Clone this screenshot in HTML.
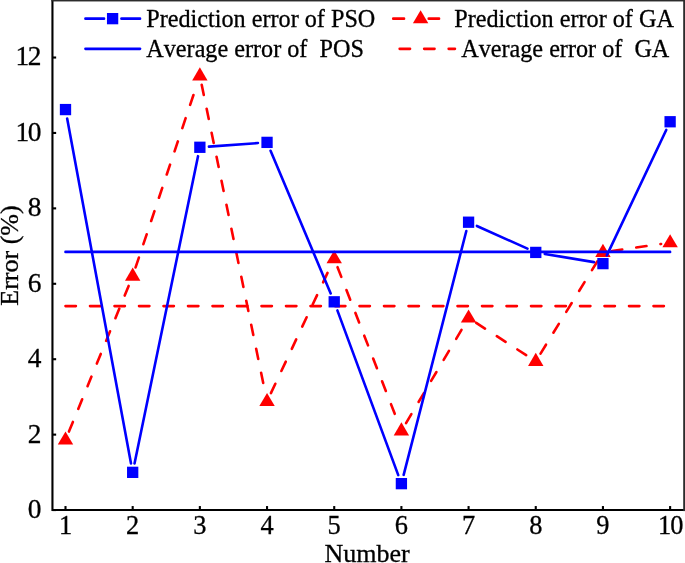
<!DOCTYPE html>
<html><head><meta charset="utf-8"><title>Error chart</title>
<style>
html,body{margin:0;padding:0;background:#fff;}
body{width:685px;height:563px;overflow:hidden;}
svg{display:block;}
text{font-kerning:none;stroke:#000;stroke-width:0.3px;font-family:"Liberation Serif","Times New Roman",serif;fill:#000;}
.tick{font-size:27.4px;}
.leg{font-size:24px;}
.title{font-size:26px;}
</style></head><body>
<svg width="685" height="563" viewBox="0 0 685 563">
<rect x="0" y="0" width="685" height="563" fill="#fff"/>
<line x1="65.50" y1="306.08" x2="670.12" y2="306.08" stroke="#ff0000" stroke-width="2.6" stroke-linecap="round" stroke-dasharray="10.4 14.1"/>
<line x1="68.95" y1="431.56" x2="129.23" y2="284.48" stroke="#ff0000" stroke-width="2.6" stroke-linecap="round" stroke-dasharray="10.4 14.1"/>
<line x1="135.57" y1="267.43" x2="196.97" y2="84.48" stroke="#ff0000" stroke-width="2.6" stroke-linecap="round" stroke-dasharray="10.4 14.1"/>
<line x1="201.70" y1="84.77" x2="265.20" y2="392.50" stroke="#ff0000" stroke-width="2.6" stroke-linecap="round" stroke-dasharray="10.4 14.1"/>
<line x1="270.92" y1="393.17" x2="330.34" y2="266.95" stroke="#ff0000" stroke-width="2.6" stroke-linecap="round" stroke-dasharray="10.4 14.1"/>
<line x1="337.53" y1="267.19" x2="398.09" y2="422.38" stroke="#ff0000" stroke-width="2.6" stroke-linecap="round" stroke-dasharray="10.4 14.1"/>
<line x1="406.05" y1="423.04" x2="463.93" y2="325.81" stroke="#ff0000" stroke-width="2.6" stroke-linecap="round" stroke-dasharray="10.4 14.1"/>
<line x1="476.23" y1="322.93" x2="528.11" y2="356.39" stroke="#ff0000" stroke-width="2.6" stroke-linecap="round" stroke-dasharray="10.4 14.1"/>
<line x1="540.53" y1="353.57" x2="598.17" y2="260.05" stroke="#ff0000" stroke-width="2.6" stroke-linecap="round" stroke-dasharray="10.4 14.1"/>
<line x1="611.95" y1="251.01" x2="661.11" y2="243.98" stroke="#ff0000" stroke-width="2.6" stroke-linecap="round" stroke-dasharray="10.4 14.1"/>
<polygon points="65.50,431.48 57.80,444.58 73.20,444.58" fill="#ff0000"/>
<polygon points="132.68,267.56 124.98,280.66 140.38,280.66" fill="#ff0000"/>
<polygon points="199.86,67.36 192.16,80.46 207.56,80.46" fill="#ff0000"/>
<polygon points="267.04,392.91 259.34,406.01 274.74,406.01" fill="#ff0000"/>
<polygon points="334.22,250.21 326.52,263.31 341.92,263.31" fill="#ff0000"/>
<polygon points="401.40,422.36 393.70,435.46 409.10,435.46" fill="#ff0000"/>
<polygon points="468.58,309.49 460.88,322.59 476.28,322.59" fill="#ff0000"/>
<polygon points="535.76,352.82 528.06,365.92 543.46,365.92" fill="#ff0000"/>
<polygon points="602.94,243.80 595.24,256.90 610.64,256.90" fill="#ff0000"/>
<polygon points="670.12,234.19 662.42,247.29 677.82,247.29" fill="#ff0000"/>
<line x1="65.50" y1="251.89" x2="670.12" y2="251.89" stroke="#0000ff" stroke-width="2.6" stroke-linecap="round"/>
<line x1="67.16" y1="118.52" x2="131.02" y2="463.39" stroke="#0000ff" stroke-width="2.6" stroke-linecap="round"/>
<line x1="134.52" y1="463.43" x2="198.02" y2="156.19" stroke="#0000ff" stroke-width="2.6" stroke-linecap="round"/>
<line x1="208.94" y1="146.62" x2="257.96" y2="143.04" stroke="#0000ff" stroke-width="2.6" stroke-linecap="round"/>
<line x1="270.57" y1="150.76" x2="330.69" y2="293.43" stroke="#0000ff" stroke-width="2.6" stroke-linecap="round"/>
<line x1="337.37" y1="310.35" x2="398.25" y2="475.12" stroke="#0000ff" stroke-width="2.6" stroke-linecap="round"/>
<line x1="403.66" y1="474.84" x2="466.32" y2="231.02" stroke="#0000ff" stroke-width="2.6" stroke-linecap="round"/>
<line x1="476.88" y1="225.94" x2="527.46" y2="248.68" stroke="#0000ff" stroke-width="2.6" stroke-linecap="round"/>
<line x1="544.74" y1="253.91" x2="593.96" y2="262.12" stroke="#0000ff" stroke-width="2.6" stroke-linecap="round"/>
<line x1="606.83" y1="255.39" x2="666.23" y2="129.97" stroke="#0000ff" stroke-width="2.6" stroke-linecap="round"/>
<rect x="59.85" y="103.92" width="11.3" height="11.3" fill="#0000ff"/>
<rect x="127.03" y="466.69" width="11.3" height="11.3" fill="#0000ff"/>
<rect x="194.21" y="141.63" width="11.3" height="11.3" fill="#0000ff"/>
<rect x="261.39" y="136.73" width="11.3" height="11.3" fill="#0000ff"/>
<rect x="328.57" y="296.17" width="11.3" height="11.3" fill="#0000ff"/>
<rect x="395.75" y="478.00" width="11.3" height="11.3" fill="#0000ff"/>
<rect x="462.93" y="216.56" width="11.3" height="11.3" fill="#0000ff"/>
<rect x="530.11" y="246.77" width="11.3" height="11.3" fill="#0000ff"/>
<rect x="597.29" y="257.97" width="11.3" height="11.3" fill="#0000ff"/>
<rect x="664.47" y="116.10" width="11.3" height="11.3" fill="#0000ff"/>
<g stroke="#000" stroke-width="2.1" fill="none" stroke-linecap="butt">
<path d="M52.45,0 L52.45,510.05 L685,510.05" stroke-linejoin="miter"/>
<rect x="51.400000000000006" y="-1" width="700" height="2.45" fill="#2c2c2c" stroke="none"/>
<rect x="683.2" y="-1" width="3" height="512.1" fill="#2c2c2c" stroke="none"/>
<line x1="65.50" y1="510.05" x2="65.50" y2="506.05"/>
<line x1="132.68" y1="510.05" x2="132.68" y2="506.05"/>
<line x1="199.86" y1="510.05" x2="199.86" y2="506.05"/>
<line x1="267.04" y1="510.05" x2="267.04" y2="506.05"/>
<line x1="334.22" y1="510.05" x2="334.22" y2="506.05"/>
<line x1="401.40" y1="510.05" x2="401.40" y2="506.05"/>
<line x1="468.58" y1="510.05" x2="468.58" y2="506.05"/>
<line x1="535.76" y1="510.05" x2="535.76" y2="506.05"/>
<line x1="602.94" y1="510.05" x2="602.94" y2="506.05"/>
<line x1="670.12" y1="510.05" x2="670.12" y2="506.05"/>
<line x1="52.45" y1="510.05" x2="56.150000000000006" y2="510.05"/>
<line x1="52.45" y1="434.63" x2="56.150000000000006" y2="434.63"/>
<line x1="52.45" y1="359.21" x2="56.150000000000006" y2="359.21"/>
<line x1="52.45" y1="283.79" x2="56.150000000000006" y2="283.79"/>
<line x1="52.45" y1="208.37" x2="56.150000000000006" y2="208.37"/>
<line x1="52.45" y1="132.95" x2="56.150000000000006" y2="132.95"/>
<line x1="52.45" y1="57.53" x2="56.150000000000006" y2="57.53"/>
</g>
<text class="tick" x="65.50" y="534.0" text-anchor="middle" style="font-size:26.4px">1</text>
<text class="tick" x="132.68" y="534.0" text-anchor="middle" style="font-size:26.4px">2</text>
<text class="tick" x="199.86" y="534.0" text-anchor="middle" style="font-size:26.4px">3</text>
<text class="tick" x="267.04" y="534.0" text-anchor="middle" style="font-size:26.4px">4</text>
<text class="tick" x="334.22" y="534.0" text-anchor="middle" style="font-size:26.4px">5</text>
<text class="tick" x="401.40" y="534.0" text-anchor="middle" style="font-size:26.4px">6</text>
<text class="tick" x="468.58" y="534.0" text-anchor="middle" style="font-size:26.4px">7</text>
<text class="tick" x="535.76" y="534.0" text-anchor="middle" style="font-size:26.4px">8</text>
<text class="tick" x="602.94" y="534.0" text-anchor="middle" style="font-size:26.4px">9</text>
<text class="tick" x="670.72" y="534.0" text-anchor="middle" style="font-size:26.4px">1<tspan dx="-1.1">0</tspan></text>
<text class="tick" x="41.5" y="517.95" text-anchor="end">0</text>
<text class="tick" x="41.5" y="442.53" text-anchor="end">2</text>
<text class="tick" x="41.5" y="367.11" text-anchor="end">4</text>
<text class="tick" x="41.5" y="291.69" text-anchor="end">6</text>
<text class="tick" x="41.5" y="216.27" text-anchor="end">8</text>
<text class="tick" x="41.5" y="140.85" text-anchor="end">1<tspan dx="-1.3">0</tspan></text>
<text class="tick" x="41.5" y="65.43" text-anchor="end">1<tspan dx="-1.3">2</tspan></text>
<text class="title" x="367" y="562.3" text-anchor="middle">Number</text>
<text class="title" transform="translate(18.2,255.5) rotate(-90)" text-anchor="middle">Error (%)</text>
<line x1="85.45" y1="18.65" x2="104.05" y2="18.65" stroke="#0000ff" stroke-width="2.6" stroke-linecap="round"/>
<line x1="121.45" y1="18.65" x2="140.05" y2="18.65" stroke="#0000ff" stroke-width="2.6" stroke-linecap="round"/>
<rect x="106.95" y="13.00" width="11.3" height="11.3" fill="#0000ff"/>
<line x1="85.45" y1="48.85" x2="140.05" y2="48.85" stroke="#0000ff" stroke-width="2.6" stroke-linecap="round"/>
<text class="leg" transform="translate(146.3,27.2) scale(1.008,1.05)">Prediction error of PSO</text>
<text class="leg" transform="translate(146.3,56.8) scale(1.008,1.05)" xml:space="preserve">Average error of  POS</text>
<line x1="393.25" y1="18.65" x2="404.05" y2="18.65" stroke="#ff0000" stroke-width="2.6" stroke-linecap="round"/>
<line x1="428.75" y1="18.65" x2="439.05" y2="18.65" stroke="#ff0000" stroke-width="2.6" stroke-linecap="round"/>
<polygon points="420.60,10.15 412.90,23.25 428.30,23.25" fill="#ff0000"/>
<line x1="399.65" y1="48.85" x2="454.95" y2="48.85" stroke="#ff0000" stroke-width="2.6" stroke-linecap="round" stroke-dasharray="10.4 14.1"/>
<text class="leg" transform="translate(454.3,27.2) scale(1.008,1.05)">Prediction error of GA</text>
<text class="leg" transform="translate(461.2,56.8) scale(1.008,1.05)" xml:space="preserve">Average error of  GA</text>
</svg></body></html>
